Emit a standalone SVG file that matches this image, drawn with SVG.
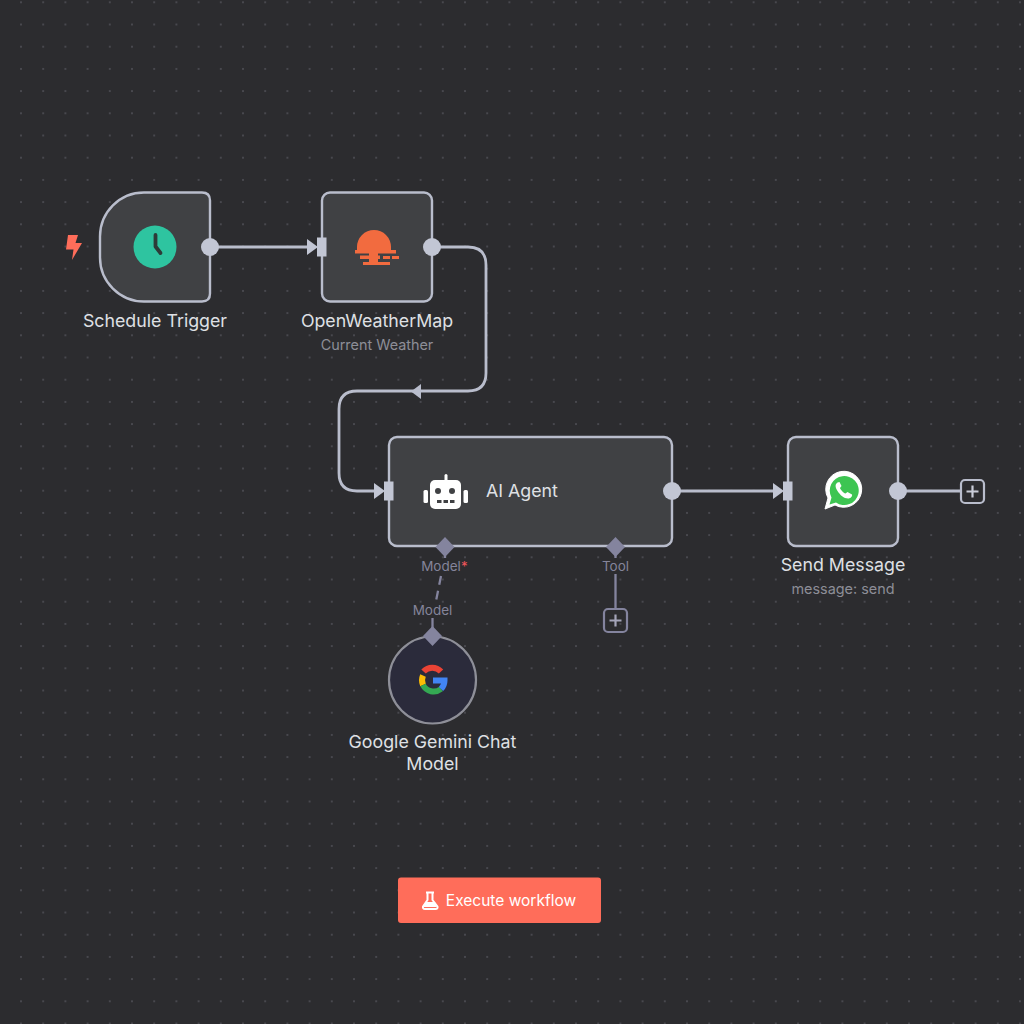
<svg xmlns="http://www.w3.org/2000/svg" width="1024" height="1024" viewBox="0 0 1024 1024">
<style>
text{font-family:"Inter","Liberation Sans",sans-serif;text-anchor:middle}
.node{fill:#404144;stroke:#b9bdcc;stroke-width:2.4}
.title{fill:#dfe0e4;font-size:17.800px}
.sub{fill:#8d8e97;font-size:14.400px}
.pl{fill:#84849a;font-size:13.500px}
.wire{fill:none;stroke:#b9bdcc;stroke-width:2.800}
.sup{fill:none;stroke:#84849e;stroke-width:2.300}
.out{fill:#c2c6d4}
.dia{fill:#84849e}
.plus{fill:none;stroke-width:2.200}
</style>
<defs>
<pattern id="grid" x="21" y="2.300" width="22.200" height="22.200" patternUnits="userSpaceOnUse"><circle cx="0" cy="0" r="0.900" fill="#55555c"/><circle cx="22.200" cy="0" r="0.900" fill="#55555c"/><circle cx="0" cy="22.200" r="0.900" fill="#55555c"/><circle cx="22.200" cy="22.200" r="0.900" fill="#55555c"/></pattern>
<g id="inport"><path d="M-11 -8L0 0L-11 8Z"/><rect x="-1" y="-9.500" width="9.500" height="19"/></g>
</defs>
<rect width="1024" height="1024" fill="#2c2c2f"/>
<rect width="1024" height="1024" fill="url(#grid)"/>
<g id="connectors">
<path class="wire" d="M210 247H312"/>
<path class="wire" d="M432 247H468Q486 247 486 265V373Q486 391 468 391H357Q339 391 339 409V473Q339 491 357 491H378"/>
<path d="M421 384V399L411 391.500Z" fill="#b9bdcc"/>
<path class="wire" d="M672 491H778"/>
<path class="wire" d="M898 491H960"/>
<path class="sup" d="M445 553V558"/>
<path class="sup" d="M441 576L436 601" stroke-dasharray="9 6"/>
<path class="sup" d="M432.500 618V630"/>
<path class="sup" d="M615.500 553V558M615.500 574V608"/>
</g>
<g id="schedule-trigger">
<path class="node" d="M144 192.500H202Q210 192.500 210 200.500V293.500Q210 301.500 202 301.500H144A44 44 0 0 1 100 257.500V236.500A44 44 0 0 1 144 192.500Z"/>
<circle cx="155" cy="247" r="21.500" fill="#2ec4a0"/>
<path d="M155.500 235V246.500L160.500 253" fill="none" stroke="#2d3b38" stroke-width="3.800" stroke-linecap="round" stroke-linejoin="round"/>
<path d="M68 235H78L75.500 243H82L72 260L73.500 249.500H66Z" fill="#ff6d5a"/>
<circle class="out" cx="210" cy="247" r="9"/>
<text class="title" x="155" y="326.500">Schedule Trigger</text>
</g>
<g id="openweathermap">
<rect class="node" x="322" y="192.500" width="110" height="109" rx="8"/>
<g fill="#f26b3f">
<path d="M357 250V247A17 17 0 0 1 391 247V250Z"/>
<rect x="355" y="250" width="41" height="3.500"/>
<rect x="360" y="255.500" width="20" height="3.500"/><rect x="383" y="256" width="7" height="3"/><rect x="392" y="256" width="7" height="3"/>
<rect x="363" y="262" width="27" height="3"/>
<rect x="369" y="253" width="9" height="10"/>
</g>
<use href="#inport" x="318" y="247" fill="#c2c6d4"/>
<circle class="out" cx="432" cy="247" r="9"/>
<text class="title" x="377" y="326.500">OpenWeatherMap</text>
<text class="sub" x="377" y="349.500">Current Weather</text>
</g>
<g id="ai-agent">
<rect class="node" x="389" y="437" width="283" height="109" rx="8"/>
<g fill="#fff">
<rect x="444.500" y="474" width="3" height="8" rx="1.500"/>
<rect x="430" y="480" width="31" height="29" rx="5"/>
<rect x="423.500" y="490" width="4.500" height="13" rx="1.500"/>
<rect x="463.500" y="490" width="4.500" height="13" rx="1.500"/>
</g>
<g fill="#404144"><circle cx="438" cy="491" r="3"/><circle cx="452" cy="491" r="3"/><rect x="437" y="500" width="4.500" height="3"/><rect x="443.500" y="500" width="4.500" height="3"/><rect x="450" y="500" width="4.500" height="3"/></g>
<text class="title" x="522" y="496.500">AI Agent</text>
<use href="#inport" x="385" y="491" fill="#c2c6d4"/>
<circle class="out" cx="672" cy="491" r="9"/>
<path class="dia" d="M445 537L454.500 547L445 557L435.500 547Z"/>
<path class="dia" d="M615.500 537L625 547L615.500 557L606 547Z"/>
<text class="pl" x="441" y="570.500">Model</text>
<text x="464.500" y="570.500" fill="#f0555a" font-size="13.500px">*</text>
<text class="pl" x="615.500" y="570.500">Tool</text>
</g>
<g id="send-message">
<rect class="node" x="788" y="437" width="110" height="109" rx="8"/>
<path d="M825 509L828 498A18 18 0 1 1 835 505Z" fill="#fff" stroke="#fff" stroke-width="1"/>
<path d="M829.500 504.500L831.500 497.500A14.500 14.500 0 1 1 836 502.500Z" fill="#3dc552"/>
<path d="M837.500 482.500C835 484 835 487 837.500 491C840 495 844 498.500 848 498.500C851 498.500 852.500 496 852 494.500L847.500 492L845.500 493.500C843.500 493 840.500 489.500 840 488L841.500 486L839.500 482Z" fill="#fff"/>
<use href="#inport" x="784" y="491" fill="#c2c6d4"/>
<circle class="out" cx="898" cy="491" r="9"/>
<text class="title" x="843" y="570.500">Send Message</text>
<text class="sub" x="843" y="593.500">message: send</text>
</g>
<g id="add-main">
<rect class="plus" x="961" y="480" width="23" height="23" rx="4" stroke="#b9bdcc"/>
<path d="M972.500 485.500V497.500M966.500 491.500H978.500" stroke="#c9ccd8" stroke-width="2.200"/>
</g>
<g id="add-tool">
<rect class="plus" x="604" y="609" width="23" height="23" rx="4" stroke="#84849e"/>
<path d="M615.500 614.500V626.500M609.500 620.500H621.500" stroke="#a4a4b8" stroke-width="2.200"/>
</g>
<g id="google-gemini">
<circle cx="432.500" cy="680" r="43.500" fill="#2b2b3b" stroke="#8e8f98" stroke-width="2.200"/>
<g fill="none" stroke-width="6">
<path d="M423.500 671.500A12 12 0 0 1 441 671.500" stroke="#ea4335"/>
<path d="M423 675.500A12 12 0 0 0 423 685" stroke="#fbbc05"/>
<path d="M423 685A12 12 0 0 0 441 689" stroke="#34a853"/>
<path d="M441 689A12 12 0 0 0 444.500 680.500H433" stroke="#4285f4"/>
</g>
<path class="dia" d="M432.500 626L442 636L432.500 646L423 636Z"/>
<text class="pl" x="432.500" y="615">Model</text>
<text class="title" x="432.500" y="747.500">Google Gemini Chat</text>
<text class="title" x="432.500" y="769.500">Model</text>
</g>
<g id="execute-workflow">
<rect x="398" y="877.500" width="203" height="45.500" rx="3" fill="#ff6d5a"/>
<path d="M426 892.500H434M427.500 893V900L423 906.500Q422.500 909 425 909H435.500Q438 909 437.500 906.500L432.500 900V893" fill="#ff6d5a" stroke="#fff" stroke-width="2" stroke-linejoin="round"/>
<path d="M425.500 902H435L437 907H423.500Z" fill="#fff"/>
<text x="511" y="905.500" fill="#fff" font-size="15.500px" font-weight="400">Execute workflow</text>
</g>
</svg>
